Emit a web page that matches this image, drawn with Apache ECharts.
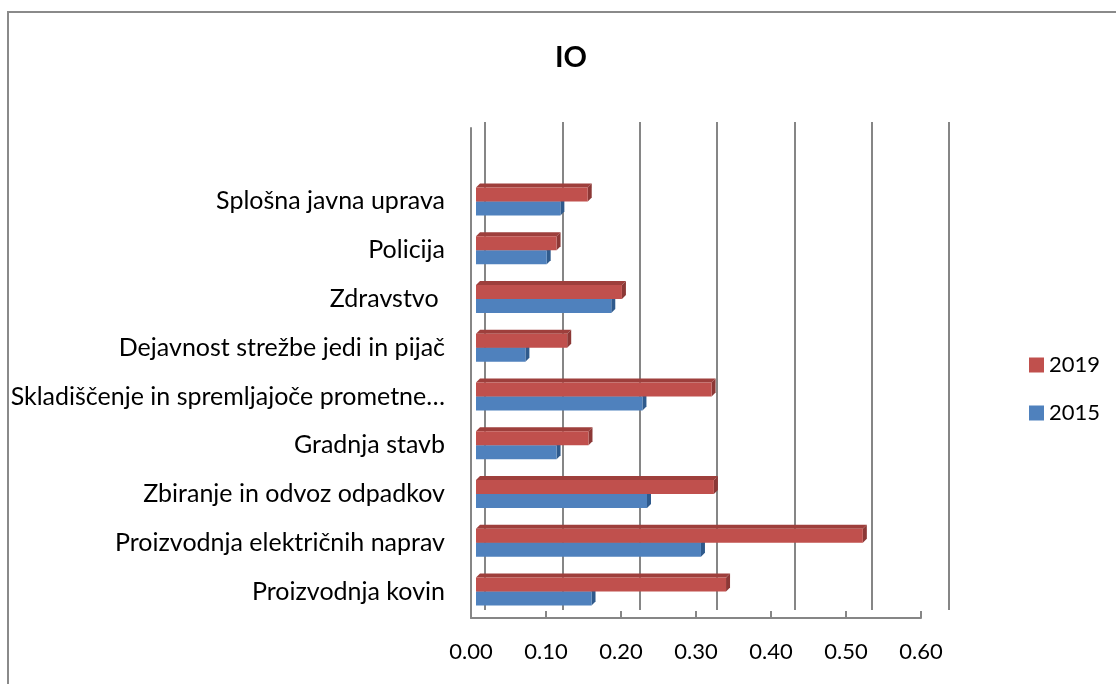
<!DOCTYPE html>
<html>
<head>
<meta charset="utf-8">
<script src="https://cdn.jsdelivr.net/npm/echarts@6/dist/echarts.min.js"></script>
<style>html,body{margin:0;padding:0;background:#fff}#c{width:1116px;height:684px}</style>
</head>
<body>
<div id="c"></div>
<script>
const categories = [
  'Proizvodnja kovin',
  'Proizvodnja električnih naprav',
  'Zbiranje in odvoz odpadkov',
  'Gradnja stavb',
  'Skladiščenje in spremljajoče prometne…',
  'Dejavnost strežbe jedi in pijač',
  'Zdravstvo ',
  'Policija',
  'Splošna javna uprava'
];
const values2019 = [0.329, 0.509, 0.313, 0.148, 0.310, 0.120, 0.192, 0.106, 0.147];
const values2015 = [0.152, 0.296, 0.225, 0.106, 0.219, 0.065, 0.178, 0.093, 0.111];
const seriesNames = ['2019', '2015'];
const axisMin = 0, axisMax = 0.6, axisStep = 0.1;

const FONT = 'Lato';
const GRAY = '#868686';
const styles = {
  '2019': { front: '#C0504D', side: '#8C3836', top: '#9E3F3C', up: true },
  '2015': { front: '#4F81BD', side: '#2F5A8C', top: '#3C6A9E', up: false }
};

function makeRender(name) {
  const st = styles[name];
  return function (params, api) {
    const v = api.value(0), idx = api.value(1);
    const p0 = api.coord([0, idx]);
    const p1 = api.coord([v, idx]);
    const h = 14, d = 4;
    const yTop = st.up ? p0[1] - h : p0[1];
    const yBot = st.up ? p0[1] : p0[1] + h;
    const x0 = p0[0], x1 = p1[0];
    const children = [
      { type: 'polygon', shape: { points: [[x0, yTop], [x0 + d, yTop - d], [x1 + d, yTop - d], [x1, yTop]] }, style: { fill: st.top } },
      { type: 'polygon', shape: { points: [[x1, yTop], [x1 + d, yTop - d], [x1 + d, yBot - d], [x1, yBot]] }, style: { fill: st.side } },
      { type: 'rect', shape: { x: x0, y: yTop, width: x1 - x0, height: yBot - yTop }, style: { fill: st.front } }
    ];
    return { type: 'group', children: children };
  };
}

const chart = echarts.init(document.getElementById('c'), null, { renderer: 'canvas' });
chart.setOption({
  backgroundColor: '#fff',
  animation: false,
  title: {
    text: 'IO', left: 566, top: 38, textAlign: 'center',
    textStyle: { fontFamily: FONT, fontSize: 29, fontWeight: 'bold', color: '#000' }
  },
  graphic: [{
    type: 'rect', shape: { x: 8, y: 12, width: 1300, height: 900 },
    style: { fill: null, stroke: '#8a8a8a', lineWidth: 2 }, silent: true
  }],
  legend: {
    orient: 'vertical', left: 1024, top: 349, itemWidth: 15, itemHeight: 15, itemGap: 26,
    icon: 'rect', data: seriesNames,
    textStyle: { fontFamily: FONT, fontSize: 22, color: '#000' }
  },
  grid: [
    { left: 485, width: 464, top: 122, bottom: 74 },
    { left: 476, width: 456, top: 177, bottom: 68 },
    { left: 471, width: 450, top: 128, bottom: 66 }
  ],
  xAxis: [
    { gridIndex: 0, type: 'value', min: axisMin, max: axisMax, interval: axisStep,
      axisLine: { show: false }, axisTick: { show: false }, axisLabel: { show: false },
      splitLine: { show: true, lineStyle: { color: GRAY, width: 2 } } },
    { gridIndex: 1, type: 'value', min: axisMin, max: axisMax, interval: axisStep,
      axisLine: { show: false }, axisTick: { show: false }, axisLabel: { show: false }, splitLine: { show: false } },
    { gridIndex: 2, type: 'value', min: axisMin, max: axisMax, interval: axisStep,
      axisLine: { show: true, lineStyle: { color: GRAY, width: 2 } },
      axisTick: { show: true, inside: true, length: 7, lineStyle: { color: GRAY, width: 2 } },
      axisLabel: { show: true, margin: 23, fontFamily: FONT, fontSize: 22, color: '#000',
        formatter: v => v.toFixed(2) },
      splitLine: { show: false } }
  ],
  yAxis: [
    { gridIndex: 0, type: 'value', show: false, splitLine: { show: false } },
    { gridIndex: 1, type: 'category', data: categories,
      axisLine: { show: false }, axisTick: { show: false },
      axisLabel: { margin: 31, fontFamily: FONT, fontSize: 25, color: '#000' } },
    { gridIndex: 2, type: 'value', axisLabel: { show: false }, splitLine: { show: false },
      axisLine: { show: true, lineStyle: { color: GRAY, width: 2 } }, axisTick: { show: false } }
  ],
  series: [
    { name: '2015', type: 'custom', xAxisIndex: 1, yAxisIndex: 1,
      itemStyle: { color: styles['2015'].front },
      renderItem: makeRender('2015'), encode: { x: 0, y: 1 },
      data: values2015.map((v, i) => [v, i]) },
    { name: '2019', type: 'custom', xAxisIndex: 1, yAxisIndex: 1,
      itemStyle: { color: styles['2019'].front },
      renderItem: makeRender('2019'), encode: { x: 0, y: 1 },
      data: values2019.map((v, i) => [v, i]) }
  ]
});
</script>
</body>
</html>
